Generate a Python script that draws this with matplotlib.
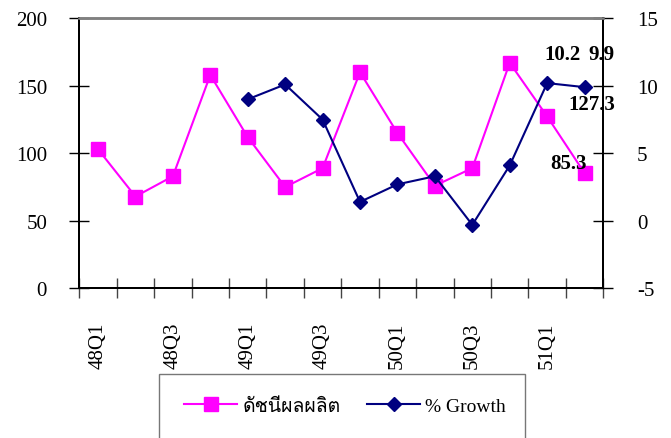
import matplotlib
matplotlib.use("Agg")
import matplotlib.pyplot as plt
import matplotlib.patches as patches
from matplotlib import font_manager
from fontTools.ttLib import TTFont

# --- data ---
quarters = ["48Q1", "48Q2", "48Q3", "48Q4", "49Q1", "49Q2", "49Q3", "49Q4",
            "50Q1", "50Q2", "50Q3", "50Q4", "51Q1", "51Q2"]
index_vals = [103, 68, 83, 158, 112, 75, 89, 160, 115, 76, 89, 167, 127.3, 85.3]
growth_start = 4  # growth series starts at 49Q1
growth_vals = [9.0, 10.1, 7.5, 1.4, 2.7, 3.3, -0.3, 4.1, 10.2, 9.9]
label_index = "ดัชนีผลผลิต"
label_growth = "% Growth"


# find an installed font with Thai glyphs for the legend text
def find_thai_font():
    for f in font_manager.fontManager.ttflist:
        try:
            tt = TTFont(f.fname, fontNumber=0, lazy=True)
            cmap = tt.getBestCmap()
            if cmap and 0x0E14 in cmap and 0x0E0A in cmap:
                return f.name
        except Exception:
            continue
    return "DejaVu Sans"


thai_font = find_thai_font()
plt.rcParams['font.family'] = ['Liberation Serif', thai_font, 'DejaVu Sans']
plt.rcParams['font.size'] = 15
plt.rcParams['axes.unicode_minus'] = False

MAGENTA = '#FF00FF'
NAVY = '#000080'
W, H = 671, 439

fig = plt.figure(figsize=(W / 100, H / 100), dpi=100)
fig.patch.set_facecolor('white')
ax = fig.add_axes([79.3 / W, 1 - 289.3 / H, 524 / W, 270 / H])
ax2 = ax.twinx()

x = list(range(len(quarters)))
xg = x[growth_start:]

l1, = ax.plot(x, index_vals, color=MAGENTA, lw=1.5, marker='s', ms=10,
              mec=MAGENTA, mfc=MAGENTA, zorder=3)
l2, = ax2.plot(xg, growth_vals, color=NAVY, lw=1.5, marker='D', ms=7.6,
               mec=NAVY, mfc=NAVY, zorder=3)

# value labels on the last two quarters
lab_kw = dict(textcoords='offset pixels', ha='center', va='center',
              fontsize=15, fontweight='bold', color='black')
ax2.annotate(f"{growth_vals[-2]:.1f}", (xg[-2], growth_vals[-2]), xytext=(15, 29), **lab_kw)
ax2.annotate(f"{growth_vals[-1]:.1f}", (xg[-1], growth_vals[-1]), xytext=(17, 33), **lab_kw)
ax.annotate(f"{index_vals[-2]:.1f}", (x[-2], index_vals[-2]), xytext=(45, 12), **lab_kw)
ax.annotate(f"{index_vals[-1]:.1f}", (x[-1], index_vals[-1]), xytext=(-16, 10), **lab_kw)

# axes
ax.set_xlim(-0.5, len(quarters) - 0.5)
ax.set_ylim(0, 200)
ax.set_yticks([0, 50, 100, 150, 200])
ax2.set_ylim(-5, 15)
ax2.set_yticks([-5, 0, 5, 10, 15])

ax.set_xticks([i - 0.5 for i in range(len(quarters) + 1)])
ax.set_xticklabels([])
ax.set_xticks(x[::2], minor=True)
ax.set_xticklabels(quarters[::2], minor=True, rotation=90, va='top', ha='center')
ax.tick_params(axis='x', which='major', direction='inout', length=14.4, width=1, color='#444444')
ax.tick_params(axis='x', which='minor', length=0, pad=24)
ax.tick_params(axis='y', direction='inout', length=14.4, width=1, pad=16)
ax2.tick_params(axis='y', direction='inout', length=14.4, width=1, pad=17)

for a in (ax, ax2):
    for s in a.spines.values():
        s.set_color('black')
        s.set_linewidth(1.4)
    a.spines['top'].set_color('#808080')
    a.spines['top'].set_linewidth(1.8)

# legend box runs off the bottom of the picture
frame = patches.Rectangle((159 / W, -0.1), (525 - 159) / W, 0.1 + 1 - 375 / H,
                          transform=fig.transFigure, facecolor='white',
                          edgecolor='#777777', linewidth=1)
fig.patches.append(frame)
leg = fig.legend([l1, l2], [label_index, label_growth], ncol=2,
                 loc='center', bbox_to_anchor=(345 / W, 1 - 406.7 / H),
                 frameon=False, handlelength=2.75, handletextpad=0.26,
                 columnspacing=1.35, borderaxespad=0, borderpad=0, fontsize=14)

fig.savefig("out.png", dpi=100, facecolor='white')
